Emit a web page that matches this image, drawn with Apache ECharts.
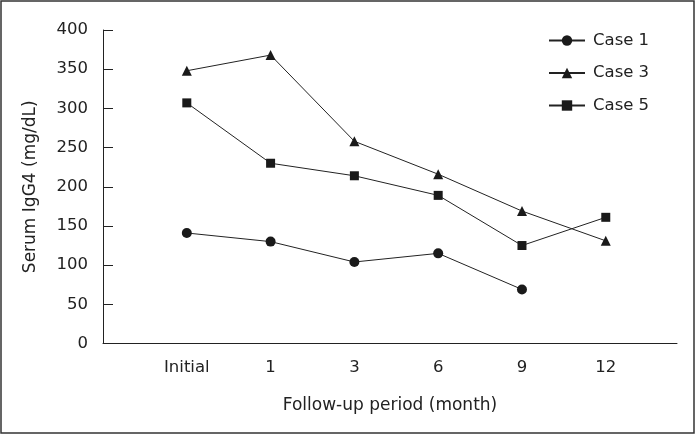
<!DOCTYPE html>
<html><head><meta charset="utf-8">
<script src="https://cdn.jsdelivr.net/npm/echarts@6/dist/echarts.min.js"></script>
<style>html,body{margin:0;padding:0;background:#fff}#c{width:695px;height:434px}</style>
</head><body><div id="c"></div>
<script>
const categories = ['Initial', '1', '3', '6', '9', '12'];
const case1 = [141, 130, 104, 115, 69, null];
const case3 = [348, 368, 258, 216, 169, 131];
const case5 = [307, 230, 214, 189, 125, 161];
const yTicks = [0, 50, 100, 150, 200, 250, 300, 350, 400];

const FONT = 'DejaVu Sans';
const INK = '#222';
function pts(arr) { return arr.map((v, i) => [i + 1, v]).filter(p => p[1] != null); }
function mk(name, data, symbol, size) {
  return { name, type: 'line', data: pts(data), symbol, symbolSize: size,
    lineStyle: { color: INK, width: 1 }, itemStyle: { color: '#1a1a1a' }, emphasis: { disabled: true }, z: 3 };
}
const chart = echarts.init(document.getElementById('c'));
chart.setOption({
  animation: false,
  graphic: [{ type: 'rect', shape: { x: 1, y: 1, width: 693, height: 432 }, style: { fill: 'none', stroke: '#333', lineWidth: 1.5 }, silent: true }],
  grid: { left: 103, right: 18, top: 30, bottom: 90.5 },
  legend: { orient: 'vertical', left: 543, top: 27, itemGap: 15.5, itemWidth: 36, itemHeight: 13,
    textStyle: { fontFamily: FONT, fontSize: 16.5, color: INK, padding: [0, 0, 0, 3] },
    data: ['Case 1', 'Case 3', 'Case 5'] },
  xAxis: { type: 'value', min: 0, max: 6.85, interval: 1,
    name: 'Follow-up period (month)', nameLocation: 'middle', nameGap: 54,
    nameTextStyle: { fontFamily: FONT, fontSize: 17, color: INK },
    axisLine: { lineStyle: { color: INK, width: 1 } }, axisTick: { show: false }, splitLine: { show: false },
    axisLabel: { fontFamily: FONT, fontSize: 16.5, color: INK, margin: 16, showMaxLabel: false,
      formatter: v => (Number.isInteger(v) && v >= 1 && v <= categories.length) ? categories[v - 1] : '' } },
  yAxis: { type: 'value', min: yTicks[0], max: yTicks[yTicks.length - 1], interval: 50,
    name: 'Serum IgG4 (mg/dL)', nameLocation: 'middle', nameGap: 64,
    nameTextStyle: { fontFamily: FONT, fontSize: 17, color: INK },
    axisLine: { show: true, lineStyle: { color: INK, width: 1 } },
    axisTick: { show: true, inside: true, length: 10, lineStyle: { color: INK } },
    splitLine: { show: false },
    axisLabel: { fontFamily: FONT, fontSize: 16.5, color: INK, margin: 15 } },
  series: [mk('Case 1', case1, 'circle', 10), mk('Case 3', case3, 'triangle', 10), mk('Case 5', case5, 'rect', 9)]
});
</script></body></html>
